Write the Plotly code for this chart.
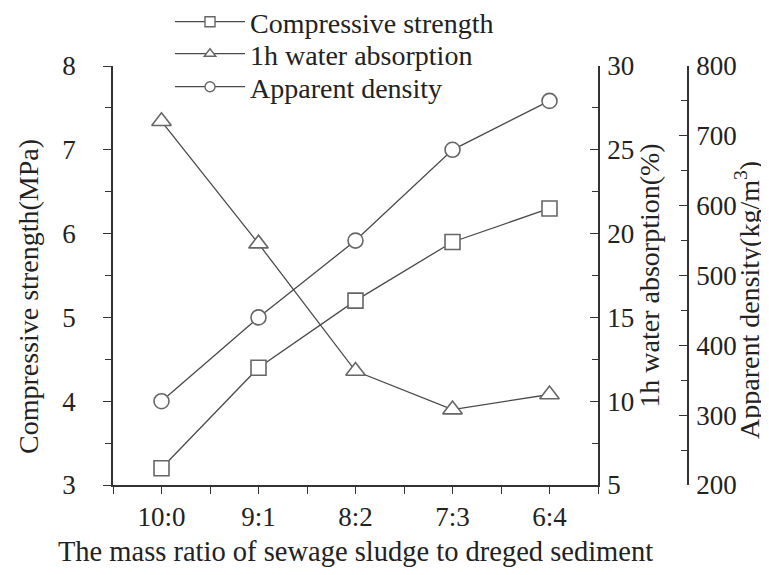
import plotly.graph_objects as go

categories = ["10:0", "9:1", "8:2", "7:3", "6:4"]
compressive_strength = [3.2, 4.4, 5.2, 5.9, 6.3]
water_absorption = [26.7, 19.4, 11.8, 9.5, 10.4]
apparent_density = [320, 440, 550, 680, 750]

x_pos = list(range(len(categories)))

line_color = "#4a4a4a"
edge_color = "#666666"
axis_color = "#333333"
font_family = "Liberation Serif"
tick_font = dict(family=font_family, size=27, color="#222222")
title_font = dict(family=font_family, size=28, color="#222222")
xtitle_font = dict(family=font_family, size=28.5, color="#222222")

# page has an 8px body margin; figure is sized to fill the rest of the window
W, H = 761, 567
ml, mr, mt, mb = 105, 81, 58, 90
pw = W - ml - mr
ph = H - mt - mb
x_end = (590 - ml) / pw

fig = go.Figure()

series = [
    (compressive_strength, "Compressive strength", "square", 15, "y", "legend"),
    (water_absorption, "1h water absorption", "triangle-up", 17, "y2", "legend2"),
    (apparent_density, "Apparent density", "circle", 15, "y3", "legend3"),
]

for y, name, symbol, size, axis, legend in series:
    fig.add_trace(go.Scatter(
        x=x_pos, y=y, name=name, mode="lines+markers", yaxis=axis,
        showlegend=False,
        line=dict(color=line_color, width=1.3),
        marker=dict(symbol=symbol, size=size, color="white",
                    line=dict(color=edge_color, width=1.6)),
    ))
    # legend-only entry with the smaller key symbol used in the reference
    fig.add_trace(go.Scatter(
        x=[None], y=[None], name=name, mode="lines+markers", yaxis=axis,
        legend=legend, showlegend=True,
        line=dict(color=line_color, width=1.3),
        marker=dict(symbol=symbol, size=10, color="white",
                    line=dict(color=edge_color, width=1.4)),
    ))


def legend_at(fig_y):
    return dict(
        x=(162 - ml) / pw, xanchor="left",
        y=1 + (mt - fig_y) / ph, yanchor="middle",
        font=title_font, bgcolor="rgba(0,0,0,0)",
        itemwidth=70,
    )


def side_title(text, fig_x, fig_y):
    return dict(
        text=text, textangle=-90, xref="paper", yref="paper",
        x=(fig_x - ml) / pw, y=1 - (fig_y - mt) / ph,
        xanchor="center", yanchor="middle", showarrow=False,
        font=title_font,
    )


fig.update_layout(
    width=W, height=H,
    margin=dict(l=ml, r=mr, t=mt, b=mb, autoexpand=False),
    paper_bgcolor="white", plot_bgcolor="white",
    font=dict(family=font_family, color="#222222"),
    showlegend=True,
    legend=legend_at(14),
    legend2=legend_at(46),
    legend3=legend_at(79),
    xaxis=dict(
        domain=[0, x_end], range=[-0.5, 4.5],
        tickmode="array", tickvals=x_pos, ticktext=categories,
        ticks="outside", ticklen=7, tickwidth=1.3, tickcolor=axis_color,
        minor=dict(tick0=-0.5, dtick=1, ticks="outside", ticklen=7,
                   tickwidth=1.3, tickcolor=axis_color),
        showline=True, linecolor=axis_color, linewidth=1.5,
        showgrid=False, zeroline=False,
        tickfont=tick_font, ticklabelstandoff=0,
        title=dict(text="The mass ratio of sewage sludge to dreged sediment",
                   font=xtitle_font, standoff=10),
    ),
    yaxis=dict(
        range=[3, 8], dtick=1, tick0=3,
        ticks="outside", ticklen=8, tickwidth=1.3, tickcolor=axis_color,
        minor=dict(dtick=0.5, ticks="outside", ticklen=6, tickwidth=1.3,
                   tickcolor=axis_color),
        showline=True, linecolor=axis_color, linewidth=1.5,
        showgrid=False, zeroline=False,
        tickfont=tick_font, ticklabelstandoff=22,
    ),
    yaxis2=dict(
        overlaying="y", side="right", anchor="x",
        range=[5, 30], dtick=5, tick0=5,
        ticks="inside", ticklen=8, tickwidth=1.3, tickcolor=axis_color,
        minor=dict(dtick=2.5, ticks="inside", ticklen=6, tickwidth=1.3,
                   tickcolor=axis_color),
        showline=True, linecolor=axis_color, linewidth=1.5,
        showgrid=False, zeroline=False,
        tickfont=tick_font, ticklabelstandoff=2,
        title=dict(text="1h water absorption(%)", font=title_font, standoff=5),
    ),
    yaxis3=dict(
        overlaying="y", side="right", anchor="free", position=1.0,
        range=[200, 800], dtick=100, tick0=200,
        ticks="inside", ticklen=8, tickwidth=1.3, tickcolor=axis_color,
        minor=dict(dtick=50, ticks="inside", ticklen=6, tickwidth=1.3,
                   tickcolor=axis_color),
        showline=True, linecolor=axis_color, linewidth=1.5,
        showgrid=False, zeroline=False,
        tickfont=tick_font, ticklabelstandoff=2,
    ),
    annotations=[
        side_title("Compressive strength(MPa)", 20, 289),
        side_title("Apparent density(kg/m<sup>3</sup>)", 739, 292),
    ],
)

fig.write_html("out.html")
